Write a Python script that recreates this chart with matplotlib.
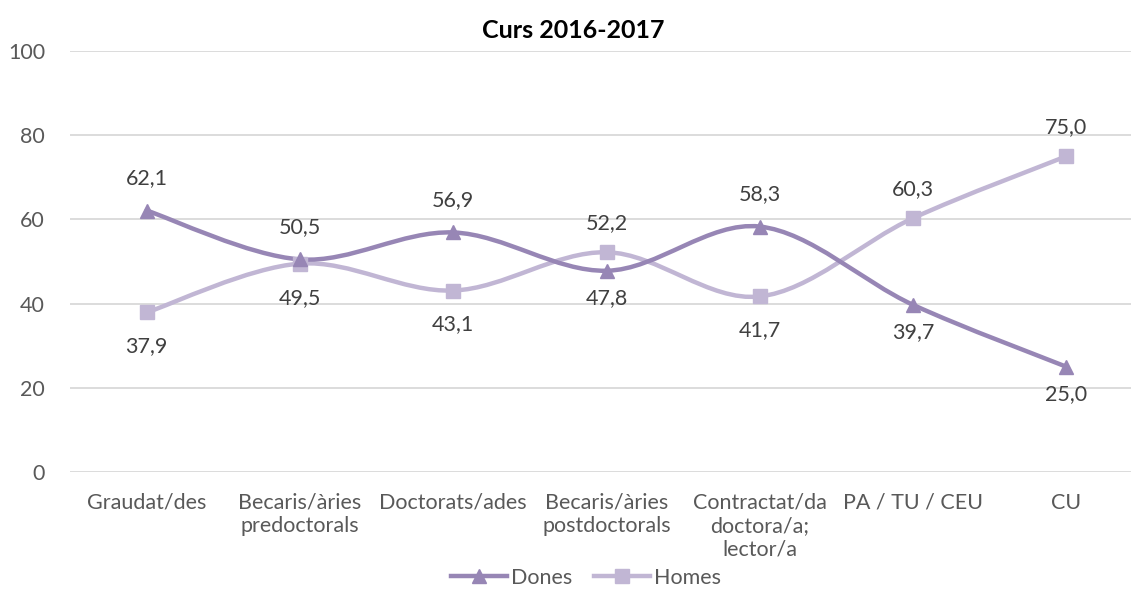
import numpy as np
import matplotlib.pyplot as plt
from matplotlib.path import Path
from matplotlib.patches import PathPatch
from matplotlib.lines import Line2D

plt.rcParams['font.family'] = ['Lato', 'DejaVu Sans']

categorias = ['Graudat/des', 'Becaris/àries\npredoctorals', 'Doctorats/ades',
              'Becaris/àries\npostdoctorals', 'Contractat/da\ndoctora/a;\nlector/a',
              'PA / TU / CEU', 'CU']
dones = [62.1, 50.5, 56.9, 47.8, 58.3, 39.7, 25.0]
homes = [37.9, 49.5, 43.1, 52.2, 41.7, 60.3, 75.0]

c_dones = '#9786B5'
c_homes = '#C1B6D4'


def corba_suau(x, y):
    # bezier tipus Excel (Catmull-Rom)
    p = np.column_stack([x, y]).astype(float)
    n = len(p)
    verts = [p[0]]
    codes = [Path.MOVETO]
    for i in range(n - 1):
        p0 = p[i - 1] if i > 0 else p[i]
        p3 = p[i + 2] if i + 2 < n else p[i + 1]
        c1 = p[i] + (p[i + 1] - p0) / 6
        c2 = p[i + 1] - (p3 - p[i]) / 6
        verts += [c1, c2, p[i + 1]]
        codes += [Path.CURVE4] * 3
    return Path(verts, codes)


fig = plt.figure(figsize=(11.31, 5.93), dpi=100)
ax = fig.add_axes([70 / 1131, 121 / 593, 1073 / 1131, 421 / 593])

x = np.arange(len(categorias))
for serie, color, marca in [(homes, c_homes, 's'), (dones, c_dones, '^')]:
    ax.add_patch(PathPatch(corba_suau(x, serie), facecolor='none', edgecolor=color,
                           lw=3.2, capstyle='round', zorder=3))
    ax.plot(x, serie, ls='none', marker=marca, ms=10, color=color, zorder=4)

# desplaçament de les etiquetes (amunt, avall) en pixels
offs = {'d': (32, -27), 'h': (29, -34)}
for i in range(len(x)):
    for k, v, altre in [('d', dones[i], homes[i]), ('h', homes[i], dones[i])]:
        off = offs[k][0] if v > altre else offs[k][1]
        ax.annotate(f'{v:.1f}'.replace('.', ','), (x[i], v), xytext=(0, off),
                    textcoords='offset pixels', ha='center', va='center',
                    fontsize=15.5, color='#404040')

ax.set_xlim(-0.5, len(categorias) - 0.5)
ax.set_ylim(0, 100)
ax.set_yticks([0, 20, 40, 60, 80, 100])
ax.set_xticks(x)
ax.set_xticklabels(categorias, fontsize=15.5, color='#595959', linespacing=1.22)
ax.tick_params(axis='y', labelsize=15.5, labelcolor='#595959', length=0, pad=18)
ax.tick_params(axis='x', length=0, pad=15)
ax.grid(axis='y', color='#D9D9D9', lw=1.3)
ax.set_axisbelow(True)
for s in ax.spines.values():
    s.set_visible(False)

fig.text(573 / 1131, 0.948, 'Curs 2016-2017', ha='center', va='center', fontsize=18,
         fontweight='bold', color='black')

handles = [Line2D([], [], color=c_dones, lw=3.2, marker='^', ms=10),
           Line2D([], [], color=c_homes, lw=3.2, marker='s', ms=10)]
fig.legend(handles, ['Dones', 'Homes'], loc='center', bbox_to_anchor=(586 / 1131, 0.026),
           ncol=2, frameon=False, fontsize=15.5, handlelength=2.6, handletextpad=0.2,
           columnspacing=1.0, labelcolor='#595959')

fig.savefig('out.png', dpi=100)
